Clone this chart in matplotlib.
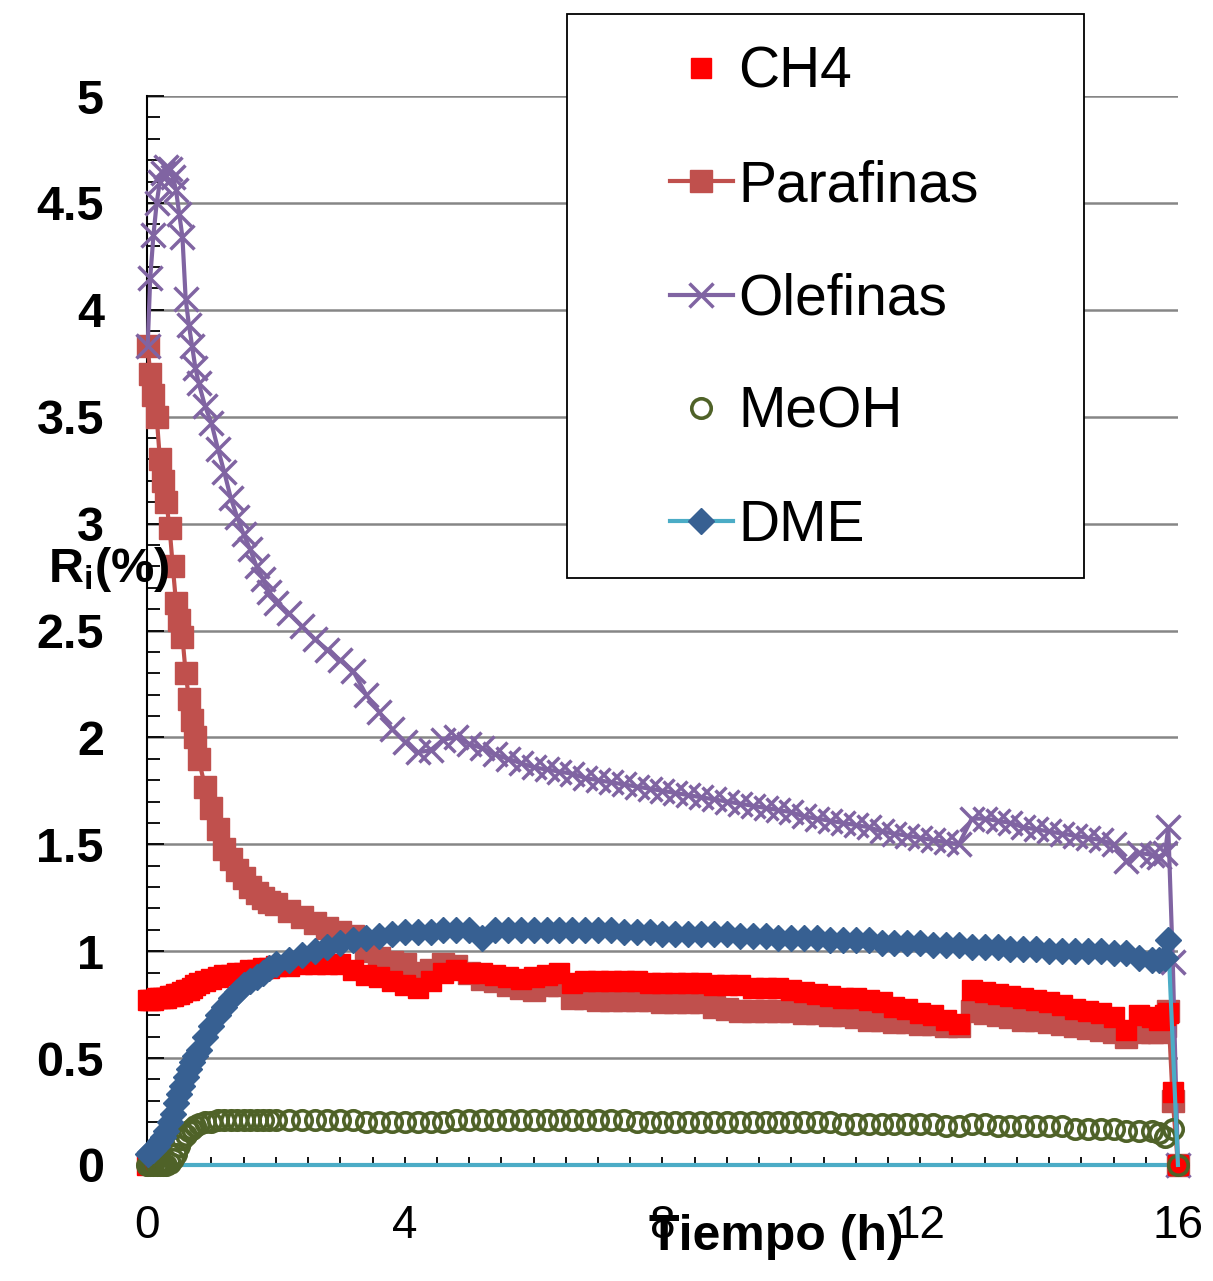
import numpy as np
import matplotlib
matplotlib.use("Agg")
import matplotlib.pyplot as plt
from matplotlib.patches import Rectangle
from matplotlib.ticker import MultipleLocator, FuncFormatter

plt.rcParams['font.family'] = ['Liberation Sans', 'DejaVu Sans']
plt.rcParams['mathtext.default'] = 'regular'

nan = np.nan

# sampling times (h)
tiempo = [0.0, 0.01, 0.05, 0.1, 0.15, 0.2, 0.25, 0.3, 0.35, 0.4, 0.45, 0.5, 0.55, 0.6, 0.65, 0.7, 0.75, 0.8,
          0.9, 1.0, 1.1, 1.2, 1.3, 1.4, 1.5, 1.6, 1.7, 1.8, 1.9, 2.0,
          2.2, 2.4, 2.6, 2.8,
          3.0, 3.2, 3.4, 3.6, 3.8,
          4.0, 4.2, 4.4, 4.6, 4.8,
          5.0, 5.2, 5.4, 5.6, 5.8,
          6.0, 6.2, 6.4, 6.6, 6.8,
          7.0, 7.2, 7.4, 7.6, 7.8,
          8.0, 8.2, 8.4, 8.6, 8.8,
          9.0, 9.2, 9.4, 9.6, 9.8,
          10.0, 10.2, 10.4, 10.6, 10.8,
          11.0, 11.2, 11.4, 11.6, 11.8,
          12.0, 12.2, 12.4, 12.6, 12.8,
          13.0, 13.2, 13.4, 13.6, 13.8,
          14.0, 14.2, 14.4, 14.6, 14.8,
          15.0, 15.2, 15.4, 15.6,
          15.7, 15.8, 15.85, 15.92, 16.0]

ch4 = [0.0, 0.77, 0.77, 0.77, 0.78, 0.78, 0.78, 0.78, 0.79, 0.79, 0.80, 0.80, 0.81, 0.82, 0.82, 0.83, 0.84, 0.85,
       0.86, 0.87, 0.88, 0.89, 0.89, 0.90, 0.90, 0.91, 0.91, 0.92, 0.92, 0.93,
       0.93, 0.94, 0.94, 0.94,
       0.94, 0.91, 0.89, 0.88, 0.86,
       0.84, 0.83, 0.86, 0.90, 0.91,
       0.90, 0.90, 0.89, 0.88, 0.87,
       0.88, 0.89, 0.90, 0.85, 0.86,
       0.86, 0.86, 0.86, 0.86, 0.85,
       0.85, 0.85, 0.85, 0.85, 0.84,
       0.84, 0.84, 0.83, 0.83, 0.83,
       0.82, 0.81, 0.80, 0.79, 0.78,
       0.78, 0.77, 0.76, 0.74, 0.73,
       0.71, 0.70, 0.68, 0.66, 0.82,
       0.81, 0.80, 0.79, 0.78, 0.77,
       0.76, 0.75, 0.73, 0.72, 0.71,
       0.69, 0.63, 0.70, 0.69,
       0.68, 0.70, 0.71, 0.34, 0.0]

parafinas = [nan, 3.83, 3.70, 3.60, 3.50, 3.30, 3.20, 3.10, 2.98, 2.80, 2.63, 2.55, 2.47, 2.30, 2.18, 2.08, 2.00, 1.90,
             1.77, 1.67, 1.57, 1.48, 1.43, 1.38, 1.34, 1.30, 1.27, 1.25, 1.23, 1.22,
             1.19, 1.16, 1.13, 1.11,
             1.09, 1.07, 1.00, 0.97, 0.95,
             0.94, 0.90, 0.91, 0.94, 0.93,
             0.90, 0.87, 0.86, 0.84, 0.83,
             0.82, 0.84, 0.84, 0.78, 0.78,
             0.77, 0.77, 0.77, 0.77, 0.77,
             0.76, 0.76, 0.76, 0.76, 0.74,
             0.73, 0.72, 0.72, 0.72, 0.72,
             0.72, 0.71, 0.71, 0.70, 0.70,
             0.69, 0.68, 0.68, 0.67, 0.67,
             0.66, 0.66, 0.65, 0.65, 0.72,
             0.71, 0.70, 0.69, 0.68, 0.68,
             0.67, 0.66, 0.65, 0.64, 0.63,
             0.62, 0.60, 0.62, 0.62,
             0.62, 0.65, 0.72, 0.30, 0.0]

olefinas = [nan, 3.83, 4.15, 4.35, 4.50, 4.60, 4.64, 4.67, 4.66, 4.62, 4.56, 4.45, 4.34, 4.05, 3.93, 3.83, 3.73, 3.66,
            3.55, 3.47, 3.35, 3.24, 3.12, 3.03, 2.95, 2.88, 2.80, 2.74, 2.68, 2.63,
            2.58, 2.52, 2.46, 2.41,
            2.36, 2.31, 2.20, 2.12, 2.04,
            1.98, 1.93, 1.94, 1.99, 2.00,
            1.97, 1.95, 1.92, 1.90, 1.88,
            1.86, 1.85, 1.84, 1.83, 1.81,
            1.80, 1.79, 1.78, 1.77, 1.76,
            1.75, 1.74, 1.73, 1.72, 1.71,
            1.70, 1.69, 1.68, 1.67, 1.66,
            1.65, 1.63, 1.62, 1.61, 1.60,
            1.59, 1.58, 1.56, 1.55, 1.54,
            1.53, 1.52, 1.51, 1.50, 1.62,
            1.62, 1.61, 1.60, 1.58, 1.57,
            1.56, 1.55, 1.54, 1.53, 1.52,
            1.50, 1.42, 1.46, 1.45,
            1.44, 1.46, 1.58, 0.95, 0.0]

meoh = [0.0, 0.0, 0.0, 0.0, 0.0, 0.0, 0.0, 0.0, 0.01, 0.03, 0.05, 0.09, 0.12, 0.14, 0.16, 0.17, 0.18, 0.19,
        0.20, 0.20, 0.21, 0.21, 0.21, 0.21, 0.21, 0.21, 0.21, 0.21, 0.21, 0.21,
        0.21, 0.21, 0.21, 0.21,
        0.21, 0.21, 0.20, 0.20, 0.20,
        0.20, 0.20, 0.20, 0.20, 0.21,
        0.21, 0.21, 0.21, 0.21, 0.21,
        0.21, 0.21, 0.21, 0.21, 0.21,
        0.21, 0.21, 0.21, 0.20, 0.20,
        0.20, 0.20, 0.20, 0.20, 0.20,
        0.20, 0.20, 0.20, 0.20, 0.20,
        0.20, 0.20, 0.20, 0.20, 0.19,
        0.19, 0.19, 0.19, 0.19, 0.19,
        0.19, 0.19, 0.18, 0.18, 0.19,
        0.19, 0.18, 0.18, 0.18, 0.18,
        0.18, 0.18, 0.17, 0.17, 0.17,
        0.17, 0.16, 0.16, 0.16,
        0.15, 0.13, nan, 0.17, 0.0]

dme = [nan, 0.05, 0.06, 0.07, 0.09, 0.11, 0.13, 0.16, 0.20, 0.24, 0.29, 0.33, 0.37, 0.41, 0.45, 0.48, 0.51, 0.54,
       0.60, 0.65, 0.70, 0.74, 0.78, 0.81, 0.84, 0.86, 0.88, 0.90, 0.92, 0.94,
       0.96, 0.98, 1.00, 1.02,
       1.04, 1.05, 1.06, 1.07, 1.08,
       1.09, 1.09, 1.09, 1.10, 1.10,
       1.10, 1.06, 1.10, 1.10, 1.10,
       1.10, 1.10, 1.10, 1.10, 1.10,
       1.10, 1.10, 1.09, 1.09, 1.09,
       1.08, 1.08, 1.08, 1.08, 1.08,
       1.08, 1.07, 1.07, 1.07, 1.06,
       1.06, 1.06, 1.06, 1.05, 1.05,
       1.05, 1.05, 1.04, 1.04, 1.04,
       1.04, 1.03, 1.03, 1.03, 1.02,
       1.02, 1.02, 1.01, 1.01, 1.01,
       1.00, 1.00, 1.00, 1.00, 1.00,
       0.99, 0.99, 0.97, 0.96,
       0.96, 0.97, 1.05, nan, 0.0]

x_ticks = [0, 4, 8, 12, 16]

T = np.array(tiempo)


def draw(ax, values, **kw):
    y = np.array(values, dtype=float)
    ok = ~np.isnan(y)
    return ax.plot(T[ok], y[ok], clip_on=False, **kw)[0]


fig = plt.figure(figsize=(12.13, 12.81), dpi=100)
ax = fig.add_axes([0.1212, 0.0906, 0.8499, 0.8344])

n_dme = int(np.sum(~np.isnan(np.array(dme, dtype=float))))

h_par = draw(ax, parafinas, color='#C0504D', lw=3, marker='s', ms=16, zorder=3, label='Parafinas')
h_ole = draw(ax, olefinas, color='#8064A2', lw=3, marker='x', ms=17, mew=2.5, zorder=4, label='Olefinas')
h_ch4 = draw(ax, ch4, color='#FF0000', ls='none', marker='s', ms=14, zorder=5, label='CH4')
h_meoh = draw(ax, meoh, color='#4F6228', ls='none', marker='o', ms=14, mfc='none', mew=2.6, zorder=6, label='MeOH')
# last DME point only closes the line (no diamond drawn on the end square)
h_dme = draw(ax, dme, color='#4BACC6', lw=3, marker='D', ms=13, mfc='#376092', mec='#376092', zorder=7,
             markevery=list(range(n_dme - 1)), label='DME')

ax.set_xlim(0, 16)
ax.set_ylim(0, 5)

ax.yaxis.set_major_locator(MultipleLocator(0.5))
ax.yaxis.set_minor_locator(MultipleLocator(0.1))
ax.yaxis.set_major_formatter(FuncFormatter(lambda v, p: f"{v:g}"))
ax.set_xticks(x_ticks)
ax.xaxis.set_minor_locator(MultipleLocator(0.5))

ax.tick_params(axis='y', which='major', direction='in', length=12, width=1.3, pad=31, labelsize=35)
ax.tick_params(axis='y', which='minor', direction='in', length=9, width=1.3)
ax.tick_params(axis='x', which='both', direction='in', length=6, width=1.3, pad=28, labelsize=33)
for lab in ax.get_yticklabels():
    lab.set_fontweight('bold')

ax.yaxis.grid(True, color='#868686', lw=1.8)
ax.set_axisbelow(True)
ax.spines['top'].set_visible(False)
ax.spines['right'].set_visible(False)
ax.spines['left'].set_color('black')
ax.spines['left'].set_linewidth(1.5)
ax.spines['bottom'].set_color('#4BACC6')
ax.spines['bottom'].set_linewidth(3)

# labels
fig.text(48 / 1213, 1 - 582 / 1281, r'R$_{i}$(%)', fontsize=35, fontweight='bold', va='baseline', ha='left')
fig.text(776 / 1213, 1 - 1250 / 1281, 'Tiempo (h)', fontsize=36, fontweight='bold', va='baseline', ha='center')

# legend box
box = Rectangle((567 / 1213, 1 - 578 / 1281), 517 / 1213, 564 / 1281, transform=fig.transFigure,
                facecolor='white', edgecolor='black', lw=1.3, zorder=5)
fig.patches.append(box)
leg = fig.legend([h_ch4, h_par, h_ole, h_meoh, h_dme], ['CH4', 'Parafinas', 'Olefinas', 'MeOH', 'DME'],
                 loc='upper left', bbox_to_anchor=(670 / 1213, 1 - 46 / 1281), bbox_transform=fig.transFigure,
                 frameon=False, borderpad=0, borderaxespad=0, handlelength=1.1, handletextpad=0.1,
                 labelspacing=1.04, fontsize=41, numpoints=1)
leg.set_zorder(6)

fig.savefig('out.png', dpi=100)
